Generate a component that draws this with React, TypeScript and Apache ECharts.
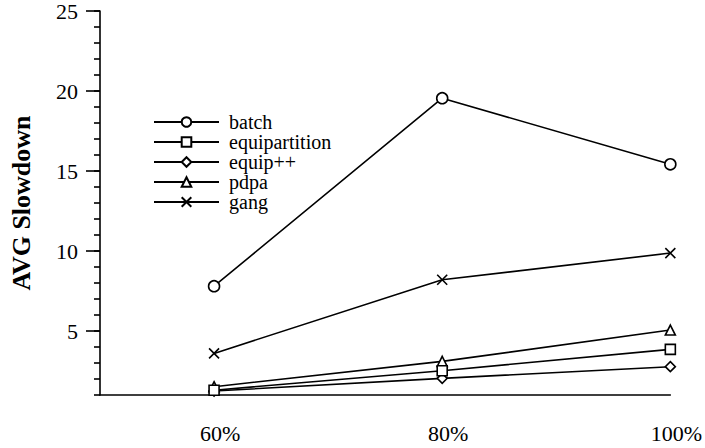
import React, { useEffect, useRef } from "react";
import * as echarts from "echarts";

const xValues = [60, 80, 100];
const seriesNames = ["batch", "equipartition", "equip++", "pdpa", "gang"];
const batch = [7.8, 19.55, 15.42];
const equipartition = [1.3, 2.52, 3.85];
const equipPP = [1.25, 2.04, 2.77];
const pdpa = [1.52, 3.1, 5.06];
const gang = [3.6, 8.2, 9.87];
const yMajorTicks = [5, 10, 15, 20, 25];
const yMinorTicks = Array.from({ length: 25 }, (_, i) => i + 1);
const xTicks = [60, 80, 100];

const FONT = "Liberation Serif, Times New Roman, serif";
const crossPath = "path://M0,0L10,10M10,0L0,10";

export default function App() {
  const ref = useRef<HTMLDivElement>(null);
  useEffect(() => {
    if (!ref.current) return;
    const chart = echarts.init(ref.current, undefined, { renderer: "svg" });
    const symbols = ["circle", "rect", "diamond", "triangle", crossPath];
    const sizes = [11, 10, 10, 10, 10];
    const datas = [batch, equipartition, equipPP, pdpa, gang];
    const series = seriesNames.map((name, i) => ({
      name,
      type: "line",
      yAxisIndex: 0,
      data: xValues.map((x, j) => [x, datas[i][j]]),
      symbol: symbols[i],
      symbolSize: sizes[i],
      showAllSymbol: true,
      lineStyle: { color: "#000", width: 1.6 },
      itemStyle: {
        color: i === 4 ? "none" : "#fff",
        borderColor: "#000",
        borderWidth: 1.6,
      },
      z: 10 - i,
    }));
    chart.setOption({
      animation: false,
      backgroundColor: "#fff",
      textStyle: { fontFamily: FONT, color: "#000" },
      grid: { left: 97, right: 32, top: 11, bottom: 53, containLabel: false },
      legend: {
        orient: "vertical",
        left: 153,
        top: 112,
        padding: 0,
        itemGap: 0,
        itemWidth: 65,
        itemHeight: 12,
        data: seriesNames,
        textStyle: {
          fontFamily: FONT,
          fontSize: 20,
          color: "#000",
          lineHeight: 20,
          padding: [0, 0, 0, 5],
        },
      },
      xAxis: {
        type: "value",
        min: 50,
        max: 100,
        axisLine: { show: true, lineStyle: { color: "#000", width: 1.6 } },
        axisTick: { show: false },
        splitLine: { show: false },
        axisLabel: {
          customValues: xTicks,
          formatter: "{value}%",
          fontFamily: FONT,
          fontSize: 22,
          color: "#000",
          margin: 27,
          padding: [0, 0, 0, 12],
        },
      },
      yAxis: [
        {
          type: "value",
          min: 1,
          max: 25,
          position: "left",
          name: "AVG Slowdown",
          nameLocation: "middle",
          nameGap: 66,
          nameTextStyle: {
            fontFamily: FONT,
            fontSize: 26,
            fontWeight: "bold",
            color: "#000",
          },
          axisLine: { show: true, lineStyle: { color: "#000", width: 1.6 } },
          axisTick: {
            show: true,
            customValues: yMajorTicks,
            length: 14,
            lineStyle: { color: "#000", width: 1.6 },
          },
          splitLine: { show: false },
          axisLabel: {
            customValues: yMajorTicks,
            fontFamily: FONT,
            fontSize: 22,
            color: "#000",
            margin: 22,
          },
        },
        {
          type: "value",
          min: 1,
          max: 25,
          position: "left",
          axisLine: { show: false },
          axisTick: {
            show: true,
            customValues: yMinorTicks,
            length: 6,
            lineStyle: { color: "#000", width: 1.6 },
          },
          splitLine: { show: false },
          axisLabel: { show: false },
        },
      ],
      series,
    });
    return () => chart.dispose();
  }, []);
  return <div ref={ref} style={{ width: 705, height: 448, position: "absolute", left: 0, top: 0 }} />;
}
